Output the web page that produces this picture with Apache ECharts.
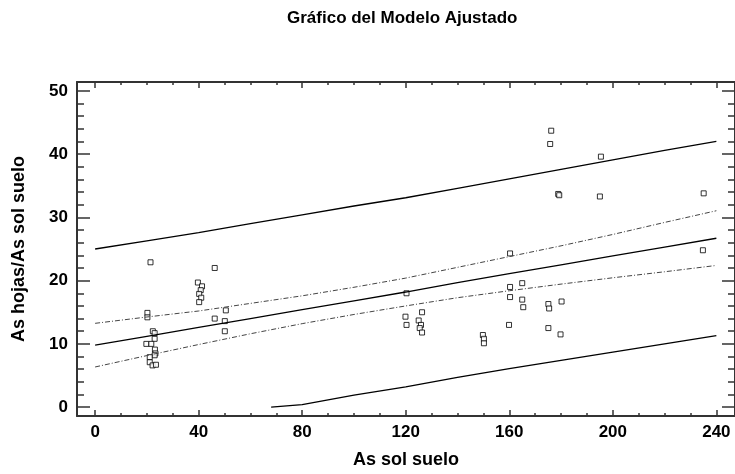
<!DOCTYPE html>
<html>
<head>
    <meta charset="UTF-8">
    <title>Gráfico del Modelo Ajustado</title>
    <style>
        html, body { margin: 0; padding: 0; background: #fff; }
        #chart { width: 735px; height: 474px; }
    </style>
    <script src="https://cdn.jsdelivr.net/npm/echarts@6/dist/echarts.min.js"></script>
</head>
<body>
<div id="chart"></div>
<script type="text/javascript">
    // observaciones (As sol suelo, As hojas/As sol suelo)
    var xObs = [21.4, 20.2, 20.2, 22.3, 23.0, 23.0, 19.8, 21.7, 23.1, 23.3, 23.0, 21.1, 21.1, 22.2, 23.5,
                39.7, 41.3, 40.8, 40.2, 41.0, 40.2, 46.2, 46.2, 50.5, 50.1, 50.1,
                160.3, 120.3, 160.3, 165.0, 160.3, 165.0, 165.4, 175.1, 175.4, 180.2, 175.1, 179.8, 159.9,
                119.9, 120.3, 126.3, 125.0, 125.9, 125.4, 126.3, 149.8, 150.2, 150.2,
                176.2, 175.8, 195.4, 178.9, 179.3, 195.0, 235.1, 234.8];
    var yObs = [22.9, 14.9, 14.2, 12.0, 11.7, 10.8, 10.0, 10.0, 9.1, 8.5, 8.2, 7.9, 7.1, 6.6, 6.7,
                19.7, 19.1, 18.5, 17.9, 17.3, 16.6, 22.0, 14.0, 15.3, 13.6, 12.0,
                24.3, 18.0, 19.0, 19.6, 17.4, 17.0, 15.8, 16.3, 15.6, 16.7, 12.5, 11.5, 13.0,
                14.3, 13.0, 15.0, 13.7, 13.0, 12.5, 11.8, 11.4, 10.8, 10.1,
                43.7, 41.6, 39.6, 33.7, 33.5, 33.3, 33.8, 24.8];

    // modelo ajustado y limites
    var xLine = [0, 20, 40, 60, 80, 100, 120, 140, 160, 180, 200, 220, 240];
    var yFit = [9.8, 11.2, 12.6, 14.0, 15.4, 16.8, 18.2, 19.7, 21.1, 22.5, 23.9, 25.3, 26.7];
    var confUp = [13.25, 14.25, 15.2, 16.4, 17.6, 18.95, 20.4, 22.1, 23.8, 25.5, 27.3, 29.2, 31.05];
    var confLo = [6.35, 8.15, 9.9, 11.6, 13.2, 14.65, 16.0, 17.3, 18.4, 19.45, 20.45, 21.4, 22.4];
    var predUp = [25.0, 26.3, 27.6, 29.0, 30.4, 31.8, 33.1, 34.6, 36.1, 37.6, 39.1, 40.6, 42.0];
    var xPredLo = [68, 80, 100, 120, 140, 160, 180, 200, 220, 240];
    var predLo = [0, 0.4, 1.9, 3.2, 4.7, 6.1, 7.4, 8.7, 10.0, 11.3];

    // ejes
    var xMajor = [0, 40, 80, 120, 160, 200, 240];
    var xMinor = [10, 20, 30, 50, 60, 70, 90, 100, 110, 130, 140, 150, 170, 180, 190, 210, 220, 230];
    var yMajor = [0, 10, 20, 30, 40, 50];
    var yMinor = [2, 4, 6, 8, 12, 14, 16, 18, 22, 24, 26, 28, 32, 34, 36, 38, 42, 44, 46, 48];

    function pairs(xs, ys) {
        var out = [];
        for (var i = 0; i < xs.length; i++) out.push([xs[i], ys[i]]);
        return out;
    }

    var frame = { color: '#333', width: 2 };
    var font = 'Liberation Sans, Arial, sans-serif';

    function axis(pos, ticks, len, opts) {
        var a = {
            type: 'value',
            position: pos,
            splitLine: { show: false },
            axisLine: { show: !!opts.line, onZero: false, lineStyle: frame },
            axisTick: { show: true, inside: true, length: len, customValues: ticks,
                        lineStyle: { color: '#333', width: 1.5 } },
            axisLabel: { show: false }
        };
        if (opts.labels) {
            a.axisLabel = { show: true, customValues: ticks, fontFamily: font,
                            fontSize: 17, fontWeight: 'bold', color: '#000', margin: opts.margin };
        }
        return a;
    }

    var xRange = { min: -7, max: 247.2 };
    var yRange = { min: -1.4, max: 51.4 };
    var nameStyle = { fontFamily: font, fontSize: 18, fontWeight: 'bold', color: '#000' };

    var xAxes = [
        Object.assign(axis('bottom', xMajor, 6, { line: true, labels: true, margin: 8 }), xRange, {
            name: 'As sol suelo', nameLocation: 'middle', nameGap: 35, nameTextStyle: nameStyle
        }),
        Object.assign(axis('bottom', xMinor, 3, {}), xRange),
        Object.assign(axis('top', xMajor, 6, { line: true }), xRange),
        Object.assign(axis('top', xMinor, 3, {}), xRange)
    ];
    var yAxes = [
        Object.assign(axis('left', yMajor, 13, { line: true, labels: true, margin: 9 }), yRange, {
            name: 'As hojas/As sol suelo', nameLocation: 'middle', nameGap: 49, nameRotate: 90,
            nameTextStyle: nameStyle
        }),
        Object.assign(axis('left', yMinor, 7, {}), yRange),
        Object.assign(axis('right', yMajor, 13, { line: true }), yRange),
        Object.assign(axis('right', yMinor, 7, {}), yRange)
    ];

    var myChart = echarts.init(document.getElementById('chart'));

    var option = {
        backgroundColor: '#fff',
        animation: false,
        title: {
            text: 'Gráfico del Modelo Ajustado',
            left: 282,
            top: 5,
            textStyle: { fontFamily: font, fontSize: 17, fontWeight: 'bold', color: '#000' }
        },
        grid: { left: 77, top: 82, width: 664, height: 340 },
        xAxis: xAxes,
        yAxis: yAxes,
        series: [
            {
                name: 'Límite predicción sup', type: 'line', data: pairs(xLine, predUp),
                showSymbol: false, lineStyle: { color: '#000', width: 1.3 }
            },
            {
                name: 'Límite predicción inf', type: 'line', data: pairs(xPredLo, predLo),
                showSymbol: false, lineStyle: { color: '#000', width: 1.3 }
            },
            {
                name: 'Ajuste', type: 'line', data: pairs(xLine, yFit),
                showSymbol: false, lineStyle: { color: '#000', width: 1.3 }
            },
            {
                name: 'Límite confianza sup', type: 'line', data: pairs(xLine, confUp),
                showSymbol: false, lineStyle: { color: '#444', width: 1, type: [5, 2, 1, 2] }
            },
            {
                name: 'Límite confianza inf', type: 'line', data: pairs(xLine, confLo),
                showSymbol: false, lineStyle: { color: '#444', width: 1, type: [5, 2, 1, 2] }
            },
            {
                name: 'Observaciones', type: 'scatter', data: pairs(xObs, yObs),
                symbol: 'rect', symbolSize: 5,
                itemStyle: { color: '#fff', borderColor: '#000', borderWidth: 1 }
            }
        ]
    };

    myChart.setOption(option);
</script>
</body>
</html>
